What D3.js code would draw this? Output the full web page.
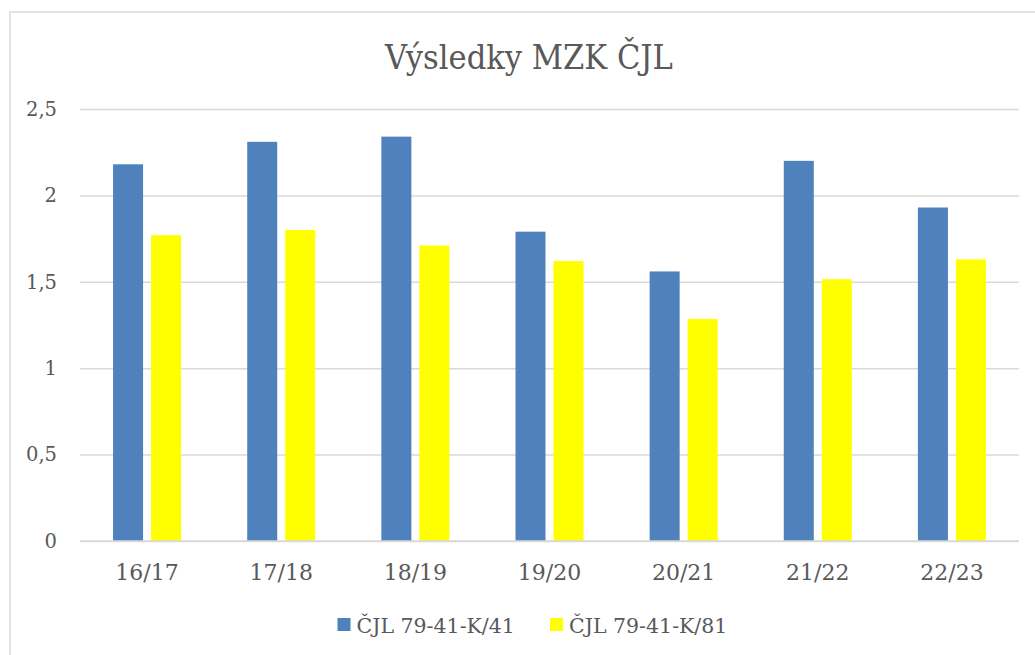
<!DOCTYPE html>
<html>
<head>
<meta charset="utf-8">
<script src="https://cdn.jsdelivr.net/npm/d3@7"></script>
<style>
  body { margin: 0; background: #fff; }
  text { font-family: "DejaVu Serif", serif; fill: #595959; }
</style>
</head>
<body>
<div id="chartContainer"></div>
<script>
// data
var categories = ["16/17", "17/18", "18/19", "19/20", "20/21", "21/22", "22/23"];
var seriesNames = ["ČJL 79-41-K/41", "ČJL 79-41-K/81"];
var seriesColors = ["#4F81BD", "#FFFF00"];
var values41 = [2.18, 2.31, 2.34, 1.79, 1.56, 2.20, 1.93];
var values81 = [1.77, 1.80, 1.71, 1.62, 1.285, 1.515, 1.63];
var yTicks = [0, 0.5, 1, 1.5, 2, 2.5];
var titleText = "Výsledky MZK ČJL";

var W = 1035, H = 655;
var plot = {left: 80, right: 1019, top: 109, bottom: 541};

var svg = d3.select("#chartContainer")
  .append("svg")
    .attr("width", W)
    .attr("height", H);

// chart area border (right/bottom edges fall outside the picture)
svg.append("rect")
  .attr("x", 10).attr("y", 12)
  .attr("width", W).attr("height", H)
  .attr("fill", "none")
  .attr("stroke", "#d9d9d9")
  .attr("stroke-width", 1.5);

// title
svg.append("text")
  .attr("x", 529)
  .attr("y", 69)
  .attr("text-anchor", "middle")
  .style("font-size", "34px")
  .style("font-stretch", "condensed")
  .text(titleText);

var y = d3.scaleLinear()
  .domain([0, 2.5])
  .range([plot.bottom, plot.top]);

var x0 = d3.scaleBand()
  .domain(categories)
  .range([plot.left, plot.right])
  .padding(0);

var groupW = 68;
var x1 = d3.scaleBand()
  .domain(seriesNames)
  .range([(x0.bandwidth() - groupW) / 2, (x0.bandwidth() + groupW) / 2])
  .paddingInner(8 / 38)
  .paddingOuter(0);

// gridlines + y labels
var yAxis = d3.axisLeft(y)
  .tickValues(yTicks)
  .tickSize(-(plot.right - plot.left))
  .tickPadding(23)
  .tickFormat(function(d) { return String(d).replace(".", ","); });

var gy = svg.append("g")
  .attr("transform", "translate(" + plot.left + ",0)")
  .call(yAxis);
gy.select(".domain").remove();
gy.selectAll(".tick line").attr("stroke", "#d9d9d9").attr("stroke-width", 1.5);
gy.selectAll(".tick text")
  .attr("fill", "#595959")
  .style("font-family", "DejaVu Serif")
  .style("font-size", "19.5px");

// x labels
var xAxis = d3.axisBottom(x0).tickSize(0).tickPadding(23);
var gx = svg.append("g")
  .attr("transform", "translate(0," + plot.bottom + ")")
  .call(xAxis);
gx.select(".domain").remove();
gx.selectAll(".tick text")
  .attr("fill", "#595959")
  .style("font-family", "DejaVu Serif")
  .style("font-size", "22px");

// bars
var rows = categories.map(function(c, i) {
  return {cat: c, vals: [values41[i], values81[i]]};
});

var groups = svg.append("g").selectAll("g")
  .data(rows)
  .enter().append("g")
    .attr("transform", function(d) { return "translate(" + x0(d.cat) + ",0)"; });

groups.selectAll("rect")
  .data(function(d) { return d.vals.map(function(v, j) { return {name: seriesNames[j], v: v, j: j}; }); })
  .enter().append("rect")
    .attr("x", function(d) { return x1(d.name); })
    .attr("y", function(d) { return y(d.v); })
    .attr("width", x1.bandwidth())
    .attr("height", function(d) { return y(0) - y(d.v); })
    .attr("fill", function(d) { return seriesColors[d.j]; });

// baseline over bars
svg.append("line")
  .attr("x1", plot.left).attr("x2", plot.right)
  .attr("y1", y(0)).attr("y2", y(0))
  .attr("stroke", "#d9d9d9")
  .attr("stroke-width", 1.5);

// legend
var legendX = [337.5, 550];
var legend = svg.append("g").selectAll("g")
  .data(seriesNames)
  .enter().append("g")
    .attr("transform", function(d, i) { return "translate(" + legendX[i] + ",618)"; });
legend.append("rect")
  .attr("width", 13).attr("height", 13)
  .attr("fill", function(d, i) { return seriesColors[i]; });
legend.append("text")
  .attr("x", 19)
  .attr("y", 14.5)
  .style("font-size", "20.5px")
  .text(function(d) { return d; });
</script>
</body>
</html>
